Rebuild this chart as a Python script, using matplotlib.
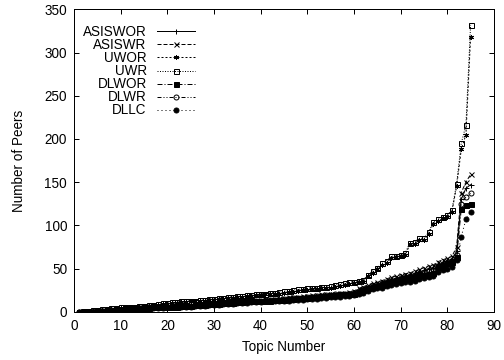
import numpy as np
import matplotlib
matplotlib.use("Agg")
import matplotlib.pyplot as plt

plt.rcParams['font.family'] = ['Liberation Sans', 'DejaVu Sans']

topics = np.arange(1, 86)

asiswor = [0, 0, 0, 1, 1, 1, 2, 2, 2, 3,
           3, 3, 4, 4, 4, 5, 5, 5, 6, 6,
           6, 7, 7, 7, 8, 8, 8, 9, 9, 10,
           10, 10, 11, 11, 11, 12, 12, 13, 13, 13,
           14, 14, 14, 15, 15, 16, 16, 16, 17, 17,
           18, 18, 19, 19, 20, 20, 21, 21, 22, 23,
           25, 27, 29, 31, 32, 34, 36, 37, 39, 40,
           41, 43, 44, 46, 48, 50, 51, 55, 57, 59,
           61, 70, 130, 143, 147]
asiswr = [0, 0, 1, 1, 1, 2, 2, 2, 3, 3,
          3, 4, 4, 4, 5, 5, 5, 6, 6, 7,
          7, 7, 8, 8, 8, 9, 9, 10, 10, 10,
          11, 11, 11, 12, 12, 13, 13, 13, 14, 14,
          15, 15, 15, 16, 16, 17, 17, 17, 18, 18,
          19, 19, 20, 20, 21, 21, 22, 22, 23, 24,
          27, 29, 31, 33, 34, 36, 38, 40, 41, 43,
          44, 45, 47, 49, 51, 53, 54, 58, 60, 62,
          64, 75, 138, 150, 159]
uwor = [0, 0, 1, 1, 2, 2, 3, 3, 4, 4,
        5, 5, 6, 6, 7, 7, 8, 8, 9, 9,
        10, 10, 11, 11, 12, 12, 13, 13, 14, 14,
        15, 15, 16, 16, 17, 17, 18, 18, 19, 19,
        20, 20, 21, 21, 22, 23, 23, 24, 25, 25,
        26, 26, 27, 27, 28, 29, 30, 31, 32, 33,
        34, 35, 41, 45, 49, 54, 57, 62, 63, 64,
        66, 78, 79, 83, 83, 90, 102, 105, 108, 110,
        116, 145, 188, 205, 318]
uwr = [0, 1, 1, 2, 2, 3, 3, 4, 4, 5,
       5, 6, 6, 7, 7, 8, 8, 9, 10, 10,
       11, 11, 12, 12, 13, 13, 14, 14, 15, 15,
       16, 16, 17, 17, 18, 18, 19, 19, 20, 21,
       21, 22, 22, 23, 24, 24, 25, 26, 26, 27,
       28, 28, 29, 29, 30, 31, 32, 33, 34, 35,
       36, 37, 43, 47, 51, 56, 59, 64, 65, 66,
       68, 80, 81, 85, 85, 92, 104, 107, 110, 112,
       118, 148, 195, 216, 332]
dlwor = [0, 0, 0, 0, 1, 1, 1, 2, 2, 2,
         3, 3, 3, 4, 4, 4, 5, 5, 5, 6,
         6, 6, 7, 7, 7, 8, 8, 8, 9, 9,
         9, 10, 10, 10, 11, 11, 12, 12, 12, 13,
         13, 13, 14, 14, 14, 15, 15, 16, 16, 16,
         17, 17, 18, 18, 19, 19, 20, 20, 21, 21,
         23, 25, 27, 29, 30, 31, 33, 34, 36, 37,
         38, 39, 40, 42, 43, 44, 45, 52, 54, 56,
         58, 63, 119, 124, 125]
dlwr = [0, 0, 0, 1, 1, 1, 1, 2, 2, 2,
        3, 3, 3, 4, 4, 4, 5, 5, 5, 6,
        6, 6, 7, 7, 7, 8, 8, 9, 9, 9,
        10, 10, 10, 11, 11, 11, 12, 12, 13, 13,
        13, 14, 14, 14, 15, 15, 16, 16, 16, 17,
        17, 18, 18, 19, 19, 20, 20, 21, 21, 22,
        24, 26, 28, 30, 31, 33, 34, 36, 37, 39,
        40, 41, 42, 44, 45, 47, 48, 53, 55, 57,
        59, 66, 125, 133, 137]
dllc = [0, 0, 0, 0, 0, 1, 1, 1, 1, 2,
        2, 2, 3, 3, 3, 3, 4, 4, 4, 5,
        5, 5, 6, 6, 6, 7, 7, 7, 8, 8,
        8, 9, 9, 9, 10, 10, 10, 11, 11, 11,
        12, 12, 12, 13, 13, 13, 14, 14, 14, 15,
        15, 15, 16, 16, 17, 17, 17, 18, 18, 19,
        20, 22, 24, 26, 27, 28, 30, 31, 32, 33,
        34, 35, 36, 38, 39, 40, 41, 46, 48, 50,
        52, 60, 87, 107, 116]

series = [
    ("ASISWOR", asiswor, "-", "+", "black"),
    ("ASISWR", asiswr, (0, (4, 2)), "x", "black"),
    ("UWOR", uwor, (0, (2, 2)), (6, 2, 0), "black"),
    ("UWR", uwr, (0, (1, 1.5)), "s", "none"),
    ("DLWOR", dlwor, (0, (5, 2, 1, 2)), "s", "black"),
    ("DLWR", dlwr, (0, (4, 2, 1, 2, 1, 2)), "o", "none"),
    ("DLLC", dllc, (0, (1, 3)), "o", "black"),
]

fig = plt.figure(figsize=(7, 5), dpi=72)
ax = fig.add_axes([0.147, 0.134, 0.833, 0.840])

for name, vals, ls, mk, fc in series:
    ax.plot(topics, vals, linestyle=ls, marker=mk, color="black",
            markerfacecolor=fc, markeredgecolor="black",
            markersize=5, markeredgewidth=1.0, linewidth=1.0, label=name)

ax.set_xlim(0, 90)
ax.set_ylim(0, 350)
ax.set_xticks(range(0, 91, 10))
ax.set_yticks(range(0, 351, 50))
ax.tick_params(direction="in", top=True, right=True, length=5, width=1.0,
               labelsize=13.5, pad=7)
for sp in ax.spines.values():
    sp.set_linewidth(1.0)

ax.set_xlabel("Topic Number", fontsize=13.5, labelpad=7)
ax.set_ylabel("Number of Peers", fontsize=13.5, labelpad=18)

leg = ax.legend(loc="upper left", bbox_to_anchor=(0.021, 0.948), frameon=False,
                markerfirst=False, fontsize=13.5, handlelength=2.8,
                handletextpad=0.75, labelspacing=-0.07, borderpad=0,
                borderaxespad=0)
leg._legend_handle_box.get_children()[0].align = "right"

fig.savefig("out.png", dpi=72)
